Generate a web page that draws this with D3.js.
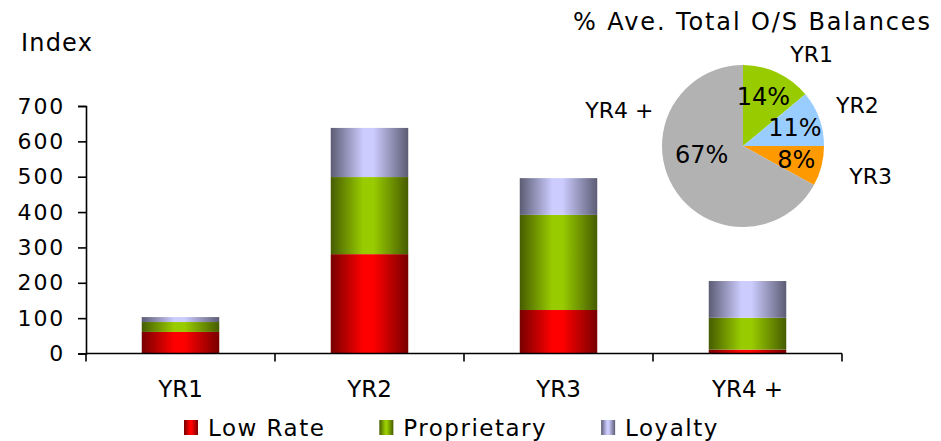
<!DOCTYPE html>
<html><head><meta charset="utf-8">
<script src="https://cdn.jsdelivr.net/npm/d3@7"></script>
<style>
body{margin:0;background:#fff}
text{font-family:"DejaVu Sans",Verdana,sans-serif;fill:#000}
</style>
</head><body><svg id="c" width="941" height="441"></svg>
<script>
const categories = ["YR1", "YR2", "YR3", "YR4 +"];
const seriesNames = ["Low Rate", "Proprietary", "Loyalty"];
const lowRate = [61, 281, 123, 11];
const proprietary = [28, 218, 269, 90];
const loyalty = [14, 139, 104, 104];
const yTicks = [0, 100, 200, 300, 400, 500, 600, 700];
const yTitle = "Index";
const pieTitle = "% Ave. Total O/S Balances";
const pieLabels = ["YR1", "YR2", "YR3", "YR4 +"];
const pieShares = [14, 11, 8, 67];

const svg = d3.select("#c");
const defs = svg.append("defs");
const grads = [
  {id: "gLow", dark: "#780000", light: "#ff0000"},
  {id: "gProp", dark: "#465c00", light: "#99cc00"},
  {id: "gLoy", dark: "#5c5c74", light: "#ccccff"}
];
grads.forEach(g => {
  const lg = defs.append("linearGradient").attr("id", g.id).attr("x1", "0").attr("x2", "1").attr("y1", "0").attr("y2", "0");
  [[0, g.dark], [0.42, g.light], [0.55, g.light], [1, g.dark]].forEach(([o, c]) =>
    lg.append("stop").attr("offset", o).attr("stop-color", c));
});

const x = d3.scaleBand().domain(categories).range([86, 842]).padding(0);
const y = d3.scaleLinear().domain([0, 700]).range([353.5, 106]);
const barW = x.bandwidth() * 0.41;

const rows = categories.map((c, i) => ({cat: c, "Low Rate": lowRate[i], "Proprietary": proprietary[i], "Loyalty": loyalty[i]}));
const stacked = d3.stack().keys(seriesNames)(rows);

svg.append("g").selectAll("g").data(stacked).join("g")
  .attr("fill", (d, i) => `url(#${grads[i].id})`)
  .selectAll("rect").data(d => d).join("rect")
  .attr("x", d => x(d.data.cat) + (x.bandwidth() - barW) / 2)
  .attr("width", barW)
  .attr("y", d => y(d[1]))
  .attr("height", d => y(d[0]) - y(d[1]));

// Y axis
const yAxis = svg.append("g").attr("transform", "translate(86,0)")
  .call(d3.axisLeft(y).tickValues(yTicks).tickSize(8).tickPadding(13).tickFormat(d3.format("d")));
yAxis.select(".domain").attr("stroke", "#000").attr("stroke-width", 1.6);
yAxis.selectAll(".tick line").attr("stroke", "#000").attr("stroke-width", 1.6);
yAxis.selectAll(".tick text").attr("font-size", 22).attr("font-family", "DejaVu Sans").attr("letter-spacing", "1.8px");

// X axis
const xAxis = svg.append("g").attr("transform", `translate(0,${y(0)})`)
  .call(d3.axisBottom(x).tickSize(0).tickPadding(27));
xAxis.select(".domain").attr("stroke", "#000").attr("stroke-width", 1.6).attr("d", `M86,0H842`);
xAxis.selectAll(".tick text").attr("font-size", 23).attr("font-family", "DejaVu Sans");
const bounds = categories.map(c => x(c)).concat([x.range()[1]]);
xAxis.selectAll("line.bound").data(bounds).join("line").attr("class", "bound")
  .attr("x1", d => d).attr("x2", d => d).attr("y1", 0).attr("y2", 8)
  .attr("stroke", "#000").attr("stroke-width", 1.6);

svg.append("text").attr("x", 21).attr("y", 51).attr("font-size", 24).attr("letter-spacing", "1.2px").text(yTitle);

// Legend
const leg = svg.append("g").attr("transform", "translate(184,420)");
let lx = 0;
seriesNames.forEach((s, i) => {
  const g = leg.append("g").attr("transform", `translate(${lx},0)`);
  g.append("rect").attr("width", 14).attr("height", 15).attr("fill", `url(#${grads[i].id})`);
  const t = g.append("text").attr("x", 24).attr("y", 16).attr("font-size", 23).attr("letter-spacing", "1.5px").text(s);
  lx += 24 + t.node().getComputedTextLength() + 54;
});

// Pie
const cx = 743, cy = 146, R = 81;
const pieColors = ["#99cc00", "#99ccff", "#ff9900", "#b2b2b2"];
const arcs = d3.pie().sort(null).value(d => d)(pieShares);
const arc = d3.arc().innerRadius(0).outerRadius(R);
const pg = svg.append("g").attr("transform", `translate(${cx},${cy})`);
pg.selectAll("path").data(arcs).join("path").attr("d", arc).attr("fill", (d, i) => pieColors[i]);

const inArc = d3.arc().innerRadius(R * 0.68).outerRadius(R * 0.68);
const inNudge = [[-3, 0], [0, 0], [0, 0], [6, -20]];
pg.selectAll("text.pct").data(arcs).join("text").attr("class", "pct")
  .attr("x", (d, i) => inArc.centroid(d)[0] + inNudge[i][0])
  .attr("y", (d, i) => inArc.centroid(d)[1] + inNudge[i][1])
  .attr("dy", "0.36em").attr("text-anchor", "middle").attr("font-size", 24)
  .text(d => d.value + "%");

const outArc = d3.arc().innerRadius(R * 1.5).outerRadius(R * 1.5);
const outNudge = [[17, 18], [0, 0], [10, 0], [-19, -98]];
pg.selectAll("text.lab").data(arcs).join("text").attr("class", "lab")
  .attr("x", (d, i) => outArc.centroid(d)[0] + outNudge[i][0])
  .attr("y", (d, i) => outArc.centroid(d)[1] + outNudge[i][1])
  .attr("dy", "0.36em").attr("text-anchor", "middle").attr("font-size", 22)
  .text((d, i) => pieLabels[i]);

svg.append("text").attr("x", 573).attr("y", 30).attr("font-size", 24).attr("letter-spacing", "1.9px").text(pieTitle);
</script>
</body></html>
